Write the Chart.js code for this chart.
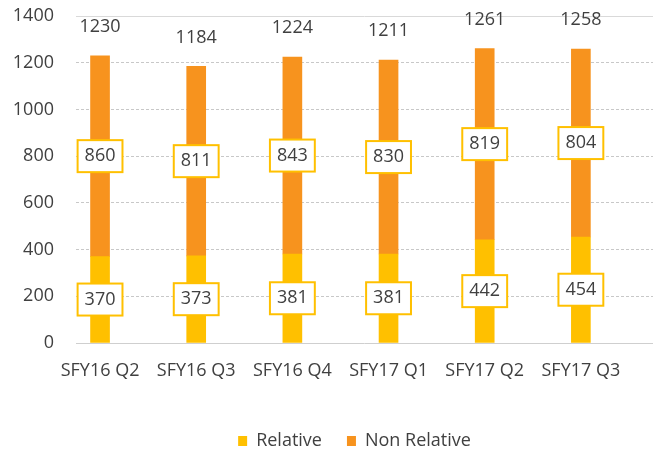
<!DOCTYPE html>
<html><head><meta charset="utf-8">
<script src="https://cdn.jsdelivr.net/npm/chart.js@4.4.0/dist/chart.umd.min.js"></script>
<style>html,body{margin:0;padding:0;background:#fff;} #wrap{width:658px;height:452px;}</style>
</head><body><div id="wrap"><canvas id="c" width="658" height="452"></canvas></div>
<script>
const categories = ['SFY16 Q2','SFY16 Q3','SFY16 Q4','SFY17 Q1','SFY17 Q2','SFY17 Q3'];
const relative = [370, 373, 381, 381, 442, 454];
const nonRelative = [860, 811, 843, 830, 819, 804];
const totals = [1230, 1184, 1224, 1211, 1261, 1258];
const yTicks = [0, 200, 400, 600, 800, 1000, 1200, 1400];

const FONT = '"Open Sans", "DejaVu Sans", sans-serif';
const FS = 18;
const TEXT = '#404040';
const YELLOW = '#FFC000';
const ORANGE = '#F7931E';

const labelPlugin = {
  id: 'valueLabels',
  afterLayout(chart) {
    if (chart.legend) { chart.legend.left -= 10; chart.legend.right -= 10; }
  },
  afterDatasetsDraw(chart) {
    const ctx = chart.ctx;
    ctx.save();
    ctx.font = FS + 'px ' + FONT;
    ctx.textAlign = 'center';
    ctx.textBaseline = 'middle';
    [0, 1].forEach(di => {
      const meta = chart.getDatasetMeta(di);
      meta.data.forEach((bar, i) => {
        const v = chart.data.datasets[di].data[i].y;
        const cx = bar.x, cy = (bar.y + bar.base) / 2;
        const txt = String(v);
        const w = ctx.measureText(txt).width + 14, h = 32;
        ctx.fillStyle = '#fff';
        ctx.fillRect(cx - w / 2, cy - h / 2, w, h);
        ctx.strokeStyle = YELLOW;
        ctx.lineWidth = 2;
        ctx.strokeRect(cx - w / 2, cy - h / 2, w, h);
        ctx.fillStyle = TEXT;
        ctx.fillText(txt, cx, cy);
      });
    });
    const ys = chart.scales.y;
    const meta = chart.getDatasetMeta(1);
    ctx.fillStyle = TEXT;
    meta.data.forEach((bar, i) => {
      ctx.fillText(String(totals[i]), bar.x, ys.getPixelForValue(totals[i]) - 29);
    });
    ctx.restore();
  }
};

new Chart(document.getElementById('c'), {
  type: 'bar',
  data: {
    datasets: [
      { label: 'Relative', data: relative.map((v, i) => ({ x: i, y: v })), backgroundColor: YELLOW, barThickness: 19 },
      { label: 'Non Relative', data: nonRelative.map((v, i) => ({ x: i, y: v })), backgroundColor: ORANGE, barThickness: 19 }
    ]
  },
  plugins: [labelPlugin],
  options: {
    responsive: false,
    animation: false,
    layout: { padding: { left: 14, right: 5, top: 16, bottom: -8 } },
    plugins: {
      tooltip: { enabled: false },
      legend: {
        position: 'bottom',
        fullSize: false,
        labels: { font: { family: FONT, size: FS }, color: TEXT, boxWidth: 9, boxHeight: 10, padding: 25 }
      }
    },
    scales: {
      x: {
        type: 'linear',
        stacked: true,
        offset: false,
        min: -0.25,
        max: 5.75,
        afterBuildTicks: s => { s.ticks = categories.map((_, i) => ({ value: i })); },
        ticks: { callback: v => categories[v] ?? '', font: { family: FONT, size: FS }, color: TEXT, padding: 17, maxRotation: 0, autoSkip: false },
        grid: { display: false, drawTicks: false, offset: false },
        border: { display: false },
        afterFit: s => { s.height = 64; }
      },
      y: {
        stacked: true,
        min: 0,
        max: 1400,
        afterBuildTicks: s => { s.ticks = yTicks.map(v => ({ value: v })); },
        ticks: { callback: v => String(v), font: { family: FONT, size: FS }, color: TEXT, padding: 22 },
        grid: {
          drawTicks: false,
          color: ctx => (ctx.tick && ctx.tick.value === 0) ? '#cfcfcf' : (ctx.tick && ctx.tick.value === 1400 ? '#d9d9d9' : '#c8c8c8'),
          lineWidth: 1
        },
        border: { display: false, dash: ctx => (ctx.tick && (ctx.tick.value === 0 || ctx.tick.value === 1400)) ? [] : [3, 2] },
        afterFit: s => { s.width = 62; s.paddingTop = 11; s.paddingBottom = 11; }
      }
    }
  }
});
</script>
</body></html>
